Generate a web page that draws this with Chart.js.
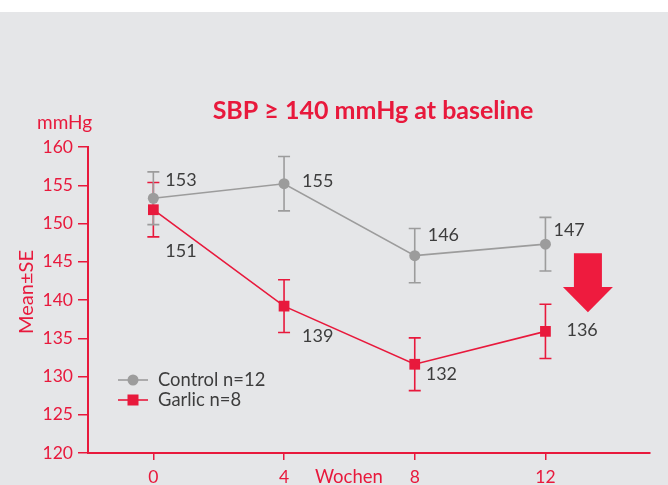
<!DOCTYPE html>
<html><head><meta charset="utf-8">
<script src="https://cdn.jsdelivr.net/npm/chart.js@4/dist/chart.umd.min.js"></script>
<style>html,body{margin:0;padding:0;background:#fff;} canvas{display:block;}</style>
</head><body>
<canvas id="c" width="668" height="485"></canvas>
<script>
// ---- data ----
const weeks = [0, 4, 8, 12];
const xTickValues = [0, 4, 8, 12];
const yTickValues = [120, 125, 130, 135, 140, 145, 150, 155, 160];
const controlMean = [153.3, 155.2, 145.8, 147.3];
const controlSE = [3.45, 3.55, 3.55, 3.5];
const garlicMean = [151.8, 139.2, 131.6, 135.9];
const garlicSE = [3.55, 3.45, 3.45, 3.55];
const controlLabels = ['153', '155', '146', '147'];
const garlicLabels = ['151', '139', '132', '136'];
const seriesNames = ['Control n=12', 'Garlic n=8'];

// ---- styling ----
const RED = '#e8193c';
const GRAY = '#9c9c9c';
const TEXT = '#3d3d3d';
const BG = '#e5e6e8';
const FONT = 'Lato, "Open Sans", sans-serif';

// label offsets (px) relative to each point
const controlLabelOffsets = [[12, -18], [18, -3], [13, -20], [8, -14]];
const garlicLabelOffsets = [[12, 41], [18, 30], [11, 10], [21, -1]];

const bgPlugin = {
  id: 'bg',
  beforeDraw(chart) {
    const ctx = chart.ctx;
    ctx.save();
    ctx.fillStyle = '#ffffff';
    ctx.fillRect(0, 0, chart.width, chart.height);
    ctx.fillStyle = BG;
    ctx.fillRect(0, 12, chart.width, chart.height - 12);
    ctx.restore();
  }
};

const errorBarPlugin = {
  id: 'errbars',
  beforeDatasetsDraw(chart) {
    const ctx = chart.ctx;
    const ys = chart.scales.y, xs = chart.scales.x;
    const groups = [[garlicMean, garlicSE, RED], [controlMean, controlSE, GRAY]];
    ctx.save();
    ctx.lineWidth = 1.6;
    for (const [m, se, col] of groups) {
      ctx.strokeStyle = col;
      weeks.forEach((w, i) => {
        const x = xs.getPixelForValue(w);
        const y1 = ys.getPixelForValue(m[i] + se[i]);
        const y2 = ys.getPixelForValue(m[i] - se[i]);
        ctx.beginPath();
        ctx.moveTo(x, y1); ctx.lineTo(x, y2);
        ctx.moveTo(x - 6, y1); ctx.lineTo(x + 6, y1);
        ctx.moveTo(x - 6, y2); ctx.lineTo(x + 6, y2);
        ctx.stroke();
      });
    }
    ctx.restore();
  }
};

const annotPlugin = {
  id: 'annot',
  afterDatasetsDraw(chart) {
    const ctx = chart.ctx;
    const xs = chart.scales.x, ys = chart.scales.y;
    ctx.save();
    // value labels
    ctx.font = '18px ' + FONT;
    ctx.fillStyle = TEXT;
    ctx.textAlign = 'left';
    ctx.textBaseline = 'middle';
    const metaC = chart.getDatasetMeta(0), metaG = chart.getDatasetMeta(1);
    metaC.data.forEach((p, i) => {
      ctx.fillText(controlLabels[i], p.x + controlLabelOffsets[i][0], p.y + controlLabelOffsets[i][1]);
    });
    metaG.data.forEach((p, i) => {
      ctx.fillText(garlicLabels[i], p.x + garlicLabelOffsets[i][0], p.y + garlicLabelOffsets[i][1]);
    });

    // title
    ctx.fillStyle = RED;
    ctx.font = 'bold 25px ' + FONT;
    ctx.textAlign = 'center';
    ctx.textBaseline = 'alphabetic';
    ctx.fillText('SBP \u2265 140 mmHg at baseline', 373, 119);

    // unit label
    ctx.font = '19px ' + FONT;
    ctx.textAlign = 'left';
    ctx.fillText('mmHg', 37, 129);

    // y axis title
    ctx.save();
    ctx.translate(33, 292);
    ctx.rotate(-Math.PI / 2);
    ctx.textAlign = 'center';
    ctx.font = '20px ' + FONT;
    ctx.fillText('Mean\u00b1SE', 0, 0);
    ctx.restore();

    // x axis title
    ctx.textAlign = 'left';
    ctx.textBaseline = 'middle';
    ctx.font = '18.5px ' + FONT;
    ctx.fillText('Wochen', 315, 477);

    // legend
    const legendItems = [[GRAY, 'circle'], [RED, 'rect']];
    legendItems.forEach(([col, style], i) => {
      const y = 380 + i * 20;
      ctx.strokeStyle = col; ctx.lineWidth = 1.6;
      ctx.beginPath(); ctx.moveTo(118, y); ctx.lineTo(148, y); ctx.stroke();
      ctx.fillStyle = col;
      if (style === 'circle') { ctx.beginPath(); ctx.arc(133, y, 5.5, 0, Math.PI * 2); ctx.fill(); }
      else { ctx.fillRect(133 - 5.5, y - 5.5, 11, 11); }
      ctx.fillStyle = TEXT;
      ctx.font = '18.4px ' + FONT;
      ctx.fillText(seriesNames[i], 158, y);
    });

    // down arrow
    const cx = xs.getPixelForValue(13.3);
    const top = ys.getPixelForValue(146.1);
    const neck = ys.getPixelForValue(141.7);
    const tip = ys.getPixelForValue(138.4);
    ctx.fillStyle = '#ee1b3e';
    ctx.beginPath();
    ctx.moveTo(cx - 14, top); ctx.lineTo(cx + 14, top); ctx.lineTo(cx + 14, neck);
    ctx.lineTo(cx + 25, neck); ctx.lineTo(cx, tip); ctx.lineTo(cx - 25, neck);
    ctx.lineTo(cx - 14, neck); ctx.closePath(); ctx.fill();
    ctx.restore();
  }
};

new Chart(document.getElementById('c'), {
  type: 'line',
  data: {
    datasets: [
      {
        label: seriesNames[0],
        data: weeks.map((w, i) => ({ x: w, y: controlMean[i] })),
        borderColor: GRAY, backgroundColor: GRAY, borderWidth: 1.6,
        pointStyle: 'circle', pointRadius: 5.5, pointBorderWidth: 0,
        tension: 0, order: 1
      },
      {
        label: seriesNames[1],
        data: weeks.map((w, i) => ({ x: w, y: garlicMean[i] })),
        borderColor: RED, backgroundColor: RED, borderWidth: 1.6,
        pointStyle: 'rect', pointRadius: 7.6, pointBorderWidth: 0,
        tension: 0, order: 0
      }
    ]
  },
  options: {
    responsive: false,
    animation: false,
    layout: { padding: { top: 147, right: 18, left: 0, bottom: 0 } },
    plugins: { legend: { display: false }, tooltip: { enabled: false }, title: { display: false } },
    scales: {
      x: {
        type: 'linear', min: -2, max: 15.2,
        afterBuildTicks(s) { s.ticks = xTickValues.map(v => ({ value: v })); },
        afterFit(s) { s.height = 32; },
        grid: { drawOnChartArea: false, drawTicks: true, tickLength: 7, color: RED, lineWidth: 1.5 },
        border: { color: RED, width: 2 },
        ticks: { color: RED, font: { family: FONT, size: 17.5 }, padding: 7, maxRotation: 0 }
      },
      y: {
        min: 120, max: 160,
        afterBuildTicks(s) { s.ticks = yTickValues.map(v => ({ value: v })); },
        afterFit(s) { s.width = 88; },
        grid: { drawOnChartArea: false, drawTicks: true, tickLength: 10, color: RED, lineWidth: 1.5 },
        border: { color: RED, width: 2 },
        ticks: { color: RED, font: { family: FONT, size: 17.5 }, padding: 5 }
      }
    }
  },
  plugins: [bgPlugin, errorBarPlugin, annotPlugin]
});
</script>
</body></html>
